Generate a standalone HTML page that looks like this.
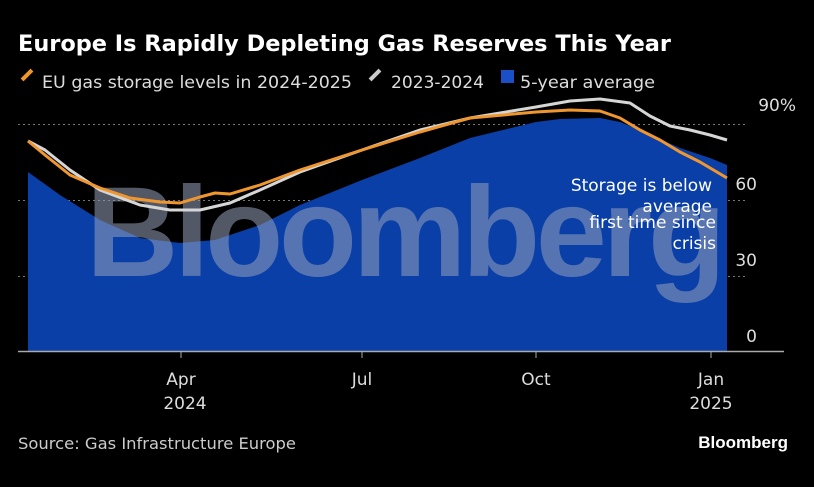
<!DOCTYPE html>
<html><head><meta charset="utf-8"><style>
body{margin:0;background:#000;width:814px;height:483px;overflow:hidden;font-family:"DejaVu Sans",sans-serif}
</style></head><body>
<svg width="814" height="483" viewBox="0 0 814 483" xmlns="http://www.w3.org/2000/svg" font-family="DejaVu Sans, sans-serif">
<rect width="814" height="483" fill="#000"/>
<text x="18" y="51" fill="#fff" font-size="22" font-weight="bold" textLength="653" lengthAdjust="spacingAndGlyphs">Europe Is Rapidly Depleting Gas Reserves This Year</text>
<rect x="20" y="73" width="14" height="4" fill="#f0962e" transform="rotate(-45 27 75)"/>
<text x="42" y="88" fill="#ddd" font-size="17" textLength="310" lengthAdjust="spacingAndGlyphs">EU gas storage levels in 2024-2025</text>
<rect x="368" y="73" width="14" height="4" fill="#ccc" transform="rotate(-45 375 75)"/>
<text x="391" y="88" fill="#ddd" font-size="17" textLength="93" lengthAdjust="spacingAndGlyphs">2023-2024</text>
<rect x="501" y="70" width="13" height="13" fill="#1a4fc8"/>
<text x="520" y="88" fill="#ddd" font-size="17" textLength="135" lengthAdjust="spacingAndGlyphs">5-year average</text>
<g stroke="#777" stroke-dasharray="2,3" stroke-width="1">
<line x1="18" y1="124.5" x2="746" y2="124.5"/><line x1="18" y1="200.5" x2="746" y2="200.5"/><line x1="18" y1="276.5" x2="746" y2="276.5"/>
</g>
<path d="M28,172 L60,195 L100,220 L140,238 L180,243 L215,240 L260,225 L300,205 L362,180 L420,158 L470,138 L536,122 L560,119 L600,118 L620,122 L640,130 L680,148 L710,158 L727,165 L727,351 L28,351 Z" fill="#0a3fa8"/>
<text x="86" y="276" fill="rgba(150,160,185,0.55)" font-family="Liberation Sans, sans-serif" font-size="128" font-weight="bold" textLength="640" lengthAdjust="spacing">Bloomberg</text>
<path d="M28,141 L45,150 L70,170 L100,190 L140,205 L170,210 L200,210 L230,203 L260,190 L300,172 L362,150 L420,130 L470,118 L536,107 L570,101 L600,99 L630,103 L650,116 L670,126 L690,130 L710,135 L727,140" fill="none" stroke="#d6d6d6" stroke-width="3" stroke-linejoin="round"/>
<path d="M28,141 L45,155 L70,175 L100,188 L130,198 L160,202 L180,203 L200,197 L215,193 L230,194 L260,185 L300,170 L362,150 L420,132 L470,118 L536,112 L570,110 L600,111 L620,118 L640,130 L660,140 L680,152 L700,162 L727,178" fill="none" stroke="#f0962e" stroke-width="3" stroke-linejoin="round"/>
<line x1="18" y1="351.5" x2="784" y2="351.5" stroke="#aaa" stroke-width="1.5"/>
<g stroke="#aaa"><line x1="181" y1="352" x2="181" y2="358"/><line x1="362" y1="352" x2="362" y2="358"/><line x1="536" y1="352" x2="536" y2="358"/><line x1="711" y1="352" x2="711" y2="358"/></g>
<g fill="#ddd" font-size="17">
<text x="796" y="111" text-anchor="end">90%</text>
<text x="757" y="190" text-anchor="end">60</text>
<text x="757" y="266" text-anchor="end">30</text>
<text x="757" y="342" text-anchor="end">0</text>
<text x="181" y="385" text-anchor="middle">Apr</text>
<text x="185" y="409" text-anchor="middle">2024</text>
<text x="362" y="385" text-anchor="middle">Jul</text>
<text x="536" y="385" text-anchor="middle">Oct</text>
<text x="711" y="385" text-anchor="middle">Jan</text>
<text x="711" y="409" text-anchor="middle">2025</text>
</g>
<g fill="#fff" font-size="17" text-anchor="end">
<text x="712" y="191">Storage is below</text>
<text x="712" y="212">average</text>
<text x="716" y="228">first time since</text>
<text x="716" y="249">crisis</text>
</g>
<text x="18" y="449" fill="#ccc" font-size="16" textLength="278" lengthAdjust="spacingAndGlyphs">Source: Gas Infrastructure Europe</text>
<text x="788" y="448" fill="#fff" font-size="17" font-family="Liberation Sans, sans-serif" font-weight="bold" text-anchor="end">Bloomberg</text>
</svg>
</body></html>
